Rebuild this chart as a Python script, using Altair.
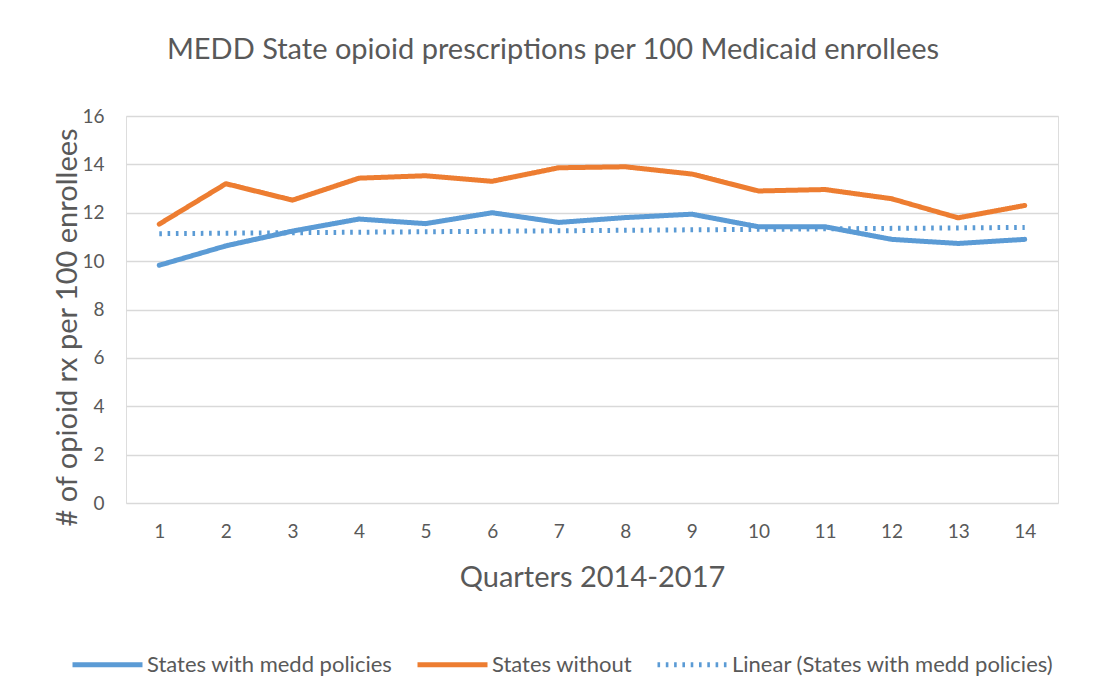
import altair as alt
import pandas as pd

quarters = list(range(1, 15))
with_medd = [9.83, 10.63, 11.24, 11.74, 11.55, 12.0, 11.6, 11.8, 11.94, 11.42, 11.42, 10.9, 10.73, 10.9]
without_medd = [11.53, 13.2, 12.52, 13.43, 13.53, 13.3, 13.86, 13.9, 13.6, 12.9, 12.96, 12.58, 11.79, 12.3]
series_names = ["States with medd policies", "States without", "Linear (States with medd policies)"]
y_ticks = [0, 2, 4, 6, 8, 10, 12, 14, 16]

rows = []
for q, a, b in zip(quarters, with_medd, without_medd):
    rows.append({"quarter": q, "value": a, "series": series_names[0]})
    rows.append({"quarter": q, "value": b, "series": series_names[1]})
df = pd.DataFrame(rows)

FONT = "Lato"
GRAY = "#595959"
GRID = "#D9D9D9"

x_enc = alt.X("quarter:Q",
              scale=alt.Scale(domain=[0.5, 14.5], nice=False, zero=False),
              axis=alt.Axis(values=quarters, grid=False, domain=False, ticks=False,
                            labelPadding=19, labelFontSize=19, labelColor=GRAY, labelFont=FONT,
                            title="Quarters 2014-2017", titleFontSize=29, titleFont=FONT,
                            titleColor=GRAY, titleFontWeight="normal", titleY=74,
                            titleBaseline="middle"))
y_enc = alt.Y("value:Q",
              scale=alt.Scale(domain=[0, 16], nice=False),
              axis=alt.Axis(values=y_ticks, grid=True, gridColor=GRID, gridWidth=1.5,
                            domain=False, ticks=False, labelPadding=22, labelFontSize=19,
                            labelColor=GRAY, labelFont=FONT,
                            title="# of opioid rx per 100 enrollees", titleFontSize=29,
                            titleFont=FONT, titleColor=GRAY, titleFontWeight="normal",
                            titleX=-59, titleY=211, titleAlign="center", titleBaseline="middle",
                            titleAngle=270))

legend = alt.Legend(title=None, orient="none", legendX=-56, legendY=511, direction="horizontal",
                    symbolType="stroke", symbolSize=4900, labelFontSize=22, labelFont=FONT,
                    labelColor=GRAY, labelLimit=500, columnPadding=14, labelOffset=2,
                    symbolStrokeWidth=alt.ExprRef(
                        "datum.value === 'Linear (States with medd policies)' ? 3 : 5"))

color_enc = alt.Color("series:N", scale=alt.Scale(domain=series_names,
                                                  range=["#5B9BD5", "#ED7D31", "#5B9BD5"]),
                      legend=legend)
dash_enc = alt.StrokeDash("series:N", scale=alt.Scale(domain=series_names,
                                                       range=[[1, 0], [1, 0], [2.6, 5.7]]),
                          legend=legend)
width_enc = alt.StrokeWidth("series:N", scale=alt.Scale(domain=series_names, range=[5, 5, 3]),
                            legend=legend)

base = alt.Chart(df)

lines = base.mark_line(strokeCap="round", strokeJoin="round").encode(
    x=x_enc, y=y_enc, color=color_enc, strokeDash=dash_enc, strokeWidth=width_enc,
    detail="series:N")

trend = base.transform_filter(
    alt.datum.series == series_names[0]
).transform_regression("quarter", "value").transform_calculate(
    series=f"'{series_names[2]}'"
).mark_line().encode(
    x=x_enc, y=y_enc, color=color_enc, strokeDash=dash_enc, strokeWidth=width_enc)

chart = alt.layer(trend, lines).properties(
    width=932, height=387,
    autosize=alt.AutoSizeParams(type="none"),
    padding={"left": 118, "top": 108, "right": 27, "bottom": 180},
    title=alt.Title("MEDD State opioid prescriptions per 100 Medicaid enrollees",
                    fontSize=29, font=FONT, color=GRAY, fontWeight="normal",
                    anchor="middle", dx=-39, offset=42),
).configure_view(stroke=None).configure(background="white")

chart.save("out.html", embed_options={"renderer": "svg", "actions": False})
